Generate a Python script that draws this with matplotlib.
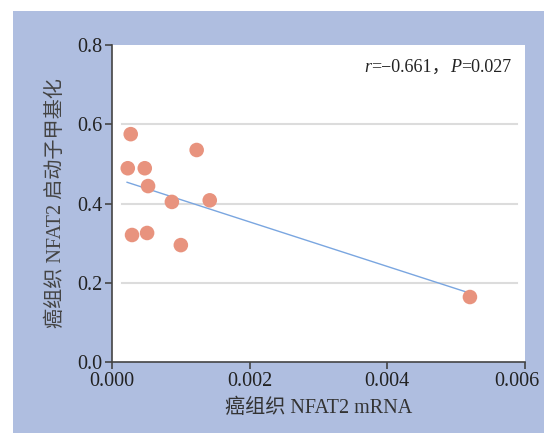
import matplotlib
matplotlib.use("Agg")
import matplotlib.pyplot as plt
from matplotlib.patches import Rectangle
from matplotlib.transforms import ScaledTranslation
import numpy as np

# NFAT2 mRNA vs promoter methylation
mrna = [0.000272, 0.000229, 0.000476, 0.000524, 0.00087, 0.00123,
        0.00142, 0.000291, 0.00051, 0.00100, 0.00520]
methyl = [0.575, 0.489, 0.489, 0.444, 0.404, 0.535,
          0.408, 0.3205, 0.3256, 0.295, 0.164]
x_ticks = [0.0, 0.002, 0.004, 0.006]
y_ticks = [0.0, 0.2, 0.4, 0.6, 0.8]
r_text = "=\u22120.661\uff0c"
p_text = "=0.027"

fonts = ['Liberation Serif', 'Noto Sans CJK SC']
plt.rcParams['font.family'] = fonts

W, H = 544, 434
fig = plt.figure(figsize=(W / 100, H / 100), dpi=100, facecolor='white')
fig.patches.append(Rectangle((13 / W, 1 / H), 1 - 13 / W, 422 / H,
                             transform=fig.transFigure, facecolor='#afbee0',
                             edgecolor='none', zorder=-5))

ax = fig.add_axes([112 / W, 1 - 362 / H, 413 / W, 317 / H])
ax.set_facecolor('white')

# grid lines that stop short of the axes edges
for yv in y_ticks[1:-1]:
    ax.axhline(yv, xmin=0.024, xmax=0.98, color='#dcdcdc', lw=1.5, zorder=1)

xs = np.array(mrna)
ys = np.array(methyl)
k, b = np.polyfit(xs, ys, 1)
xl = np.array([xs.min() - 0.00001, xs.max() - 0.00003])
ax.plot(xl, k * xl + b, color='#7aa6e0', lw=1.0, zorder=2)

ax.scatter(xs, ys, s=110, color='#e8937e', edgecolor='none', zorder=3)

ax.set_xlim(0, 0.006)
ax.set_ylim(0, 0.8)
ax.set_xticks(x_ticks)
ax.set_xticklabels([f"{v:.3f}" for v in x_ticks])
ax.set_yticks(y_ticks)
ax.set_yticklabels([f"{v:.1f}" for v in y_ticks])

for s in ['top', 'right']:
    ax.spines[s].set_visible(False)
for s in ['left', 'bottom']:
    ax.spines[s].set_color('#444444')
    ax.spines[s].set_linewidth(1.2)
ax.tick_params(direction='out', length=5, width=1.2, color='#444444',
               labelsize=14.5, labelcolor='#222222', pad=2)

# last x label sits a little left of its tick
last = ax.get_xticklabels()[-1]
last.set_transform(last.get_transform() + ScaledTranslation(-0.08, 0, fig.dpi_scale_trans))

ax.set_xlabel("癌组织 NFAT2 mRNA", fontsize=14.5, color='#333333', labelpad=6)
ax.set_ylabel("癌组织 NFAT2 启动子甲基化", fontsize=14.5, color='#444444', labelpad=8)

# r / P annotation with italic letters
t1 = ax.text(364 / W, 1 - 72 / H, "r", transform=fig.transFigure,
             fontsize=13, style='italic', color='#222222', va='baseline')
t2 = ax.annotate(r_text, xycoords=t1, xy=(1, 0), va='bottom',
                 fontsize=13, color='#222222')
t3 = ax.annotate("P", xycoords=t2, xy=(1, 0), va='bottom',
                 fontsize=13, style='italic', color='#222222')
ax.annotate(p_text, xycoords=t3, xy=(1, 0), va='bottom',
            fontsize=13, color='#222222')

fig.savefig("out.png", dpi=100, facecolor=fig.get_facecolor())
